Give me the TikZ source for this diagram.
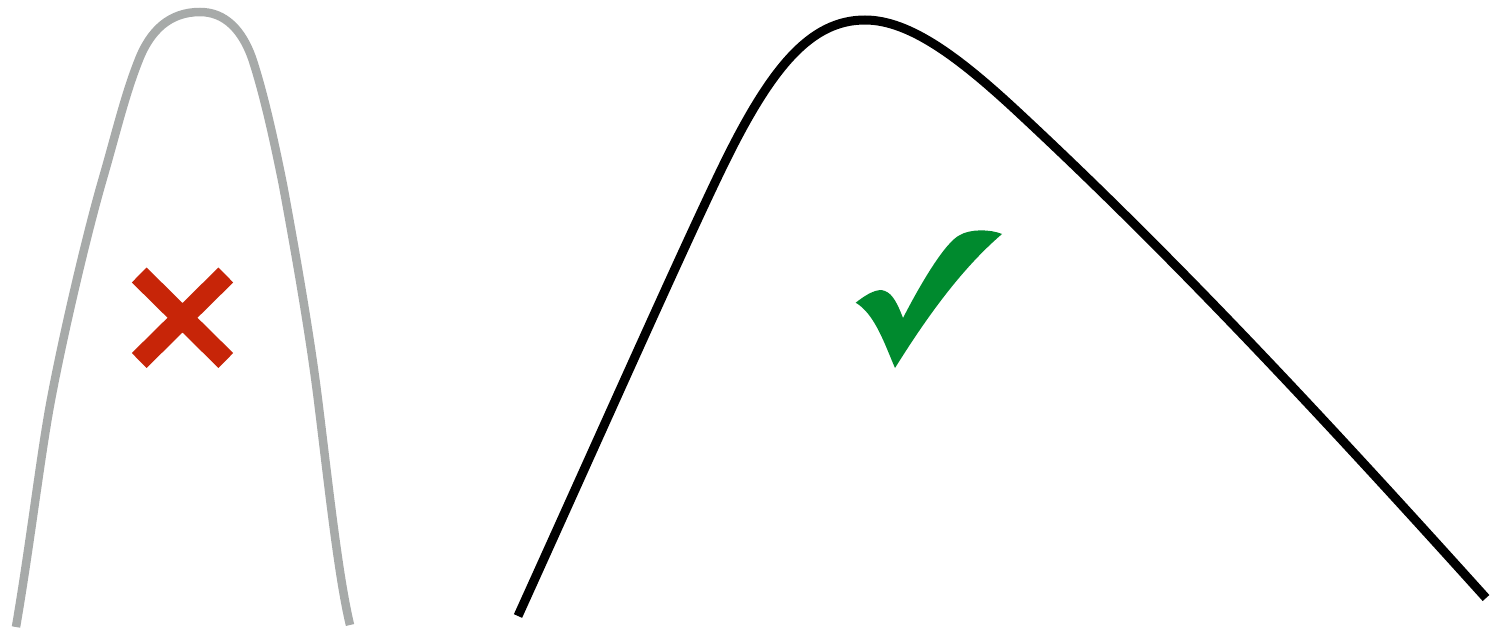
\documentclass[tikz,border=0pt]{standalone}
\definecolor{curvegray}{RGB}{167,170,169}
\definecolor{xred}{RGB}{199,37,8}
\definecolor{okgreen}{RGB}{0,138,46}
\tikzset{
  narrowcurve/.style={draw=curvegray,line width=8.5pt},
  widecurve/.style={draw=black,line width=9pt},
  crossarm/.style={draw=xred,line width=21pt},
  tick/.style={fill=okgreen,draw=none}
}
\begin{document}
\begin{tikzpicture}[x=1pt,y=-1pt]
\useasboundingbox (0,0) rectangle (1490,628);
% grey narrow curve
\draw[narrowcurve] (16,627) .. controls (30,545) and (40,460) .. (50,405)
  .. controls (61,345) and (85,240) .. (103,178)
  .. controls (116,133) and (125,95) .. (138,62)
  .. controls (150,30) and (170,12) .. (200,12)
  .. controls (225,12) and (242,30) .. (252,58)
  .. controls (262,88) and (272,130) .. (283,185)
  .. controls (295,250) and (310,335) .. (318,400)
  .. controls (328,480) and (338,575) .. (350,625);
% black wide curve
\draw[widecurve] (518,616) .. controls (600,435) and (680,255) .. (720,172)
  .. controls (770,68) and (810,20) .. (865,20)
  .. controls (910,20) and (960,58) .. (1020,114)
  .. controls (1180,263) and (1330,425) .. (1486,598);
% red cross
\draw[crossarm] (139.2,275) -- (225.8,360.5);
\draw[crossarm] (225.8,275) -- (139.2,360.5);
% green check
\fill[tick] (855.7,302.7) .. controls (868,293) and (878,288) .. (885,291)
  .. controls (893,294) and (898,305) .. (903,318)
  .. controls (920,285) and (945,242) .. (960,235)
  .. controls (970,229) and (990,229) .. (1002,234)
  .. controls (960,270) and (925,320) .. (895,368)
  .. controls (885,345) and (875,314) .. cycle;
\end{tikzpicture}
\end{document}
